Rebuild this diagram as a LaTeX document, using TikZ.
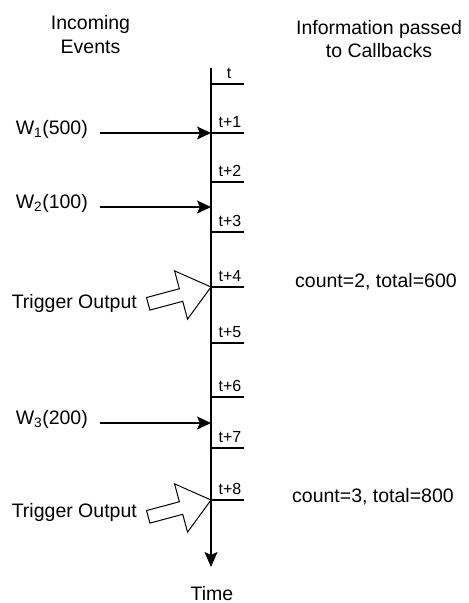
\documentclass[tikz,border=0pt]{standalone}
\usepackage{fontspec}
\setmainfont{Liberation Sans}
\usetikzlibrary{arrows.meta}

\begin{document}
\begin{tikzpicture}[x=1pt, y=-1pt,
    every node/.style={inner sep=0pt, font=\fontsize{19.5}{23.5}\selectfont},
    tickline/.style={line width=1.3pt},
    tlabel/.style={anchor=base, font=\fontsize{16}{19}\selectfont},
    eventarrow/.style={-{Stealth[length=14pt, width=13pt, inset=3pt]}, line width=1.3pt, shorten <=12pt},
    bigarrow/.style={line width=1pt, fill=white, line join=miter}]
    \useasboundingbox (0,0) rectangle (469,603);

    % Headings (base = last line)
    \node[align=center, anchor=base] (incoming) at (90.5,53) {Incoming\\Events};
    \node[align=center, anchor=base] (info) at (379,57.5) {Information passed\\to Callbacks};

    % Time axis
    \coordinate (top) at (211,68);
    \coordinate (bottom) at (211,567);
    \draw[line width=1.6pt, -{Stealth[length=15pt, width=13pt, inset=3pt]}] (top) -- (bottom);
    \node[anchor=base] (time) at (212,600) {Time};

    % Ticks
    \draw[tickline] (211,84) coordinate (k0) -- ++(33,0);  \node[tlabel] (l0) at (229,78.5) {t};
    \draw[tickline] (211,133) coordinate (k1) -- ++(33,0); \node[tlabel] (l1) at (230,127.5) {t+1};
    \draw[tickline] (211,182) coordinate (k2) -- ++(33,0); \node[tlabel] (l2) at (230,176.5) {t+2};
    \draw[tickline] (211,232) coordinate (k3) -- ++(33,0); \node[tlabel] (l3) at (230,226.5) {t+3};
    \draw[tickline] (211,287) coordinate (k4) -- ++(33,0); \node[tlabel] (l4) at (230,281.5) {t+4};
    \draw[tickline] (211,343) coordinate (k5) -- ++(33,0); \node[tlabel] (l5) at (230,337.5) {t+5};
    \draw[tickline] (211,397) coordinate (k6) -- ++(33,0); \node[tlabel] (l6) at (230,391.5) {t+6};
    \draw[tickline] (211,448) coordinate (k7) -- ++(33,0); \node[tlabel] (l7) at (230,442.5) {t+7};
    \draw[tickline] (211,500) coordinate (k8) -- ++(33,0); \node[tlabel] (l8) at (230,494.5) {t+8};

    % Incoming events
    \coordinate (e2) at (211,207);
    \coordinate (e3) at (211,423);
    \node[anchor=base east] (w1) at (88,134) {W\textsubscript{1}(500)};
    \node[anchor=base east] (w2) at (88,208) {W\textsubscript{2}(100)};
    \node[anchor=base east] (w3) at (88,424) {W\textsubscript{3}(200)};
    \draw[eventarrow] (w1.east |- k1) -- (k1);
    \draw[eventarrow] (w2.east |- e2) -- (e2);
    \draw[eventarrow] (w3.east |- e3) -- (e3);

    % Trigger outputs
    \draw[bigarrow, shift={(k4)}, rotate=15] (0,0) -- (-31,-25) -- (-31,-6.5) -- (-65,-6.5)
        -- (-65,6.5) -- (-31,6.5) -- (-31,25) -- cycle;
    \node[anchor=base east] (trig1) at (137,308) {Trigger Output};
    \draw[bigarrow, shift={(k8)}, rotate=15] (0,0) -- (-31,-25) -- (-31,-6.5) -- (-65,-6.5)
        -- (-65,6.5) -- (-31,6.5) -- (-31,25) -- cycle;
    \node[anchor=base east] (trig2) at (137,517) {Trigger Output};

    % Information passed
    \node[anchor=base west] (info1) at (295,287) {count=2, total=600};
    \node[anchor=base west] (info2) at (292,502) {count=3, total=800};
\end{tikzpicture}
\end{document}
